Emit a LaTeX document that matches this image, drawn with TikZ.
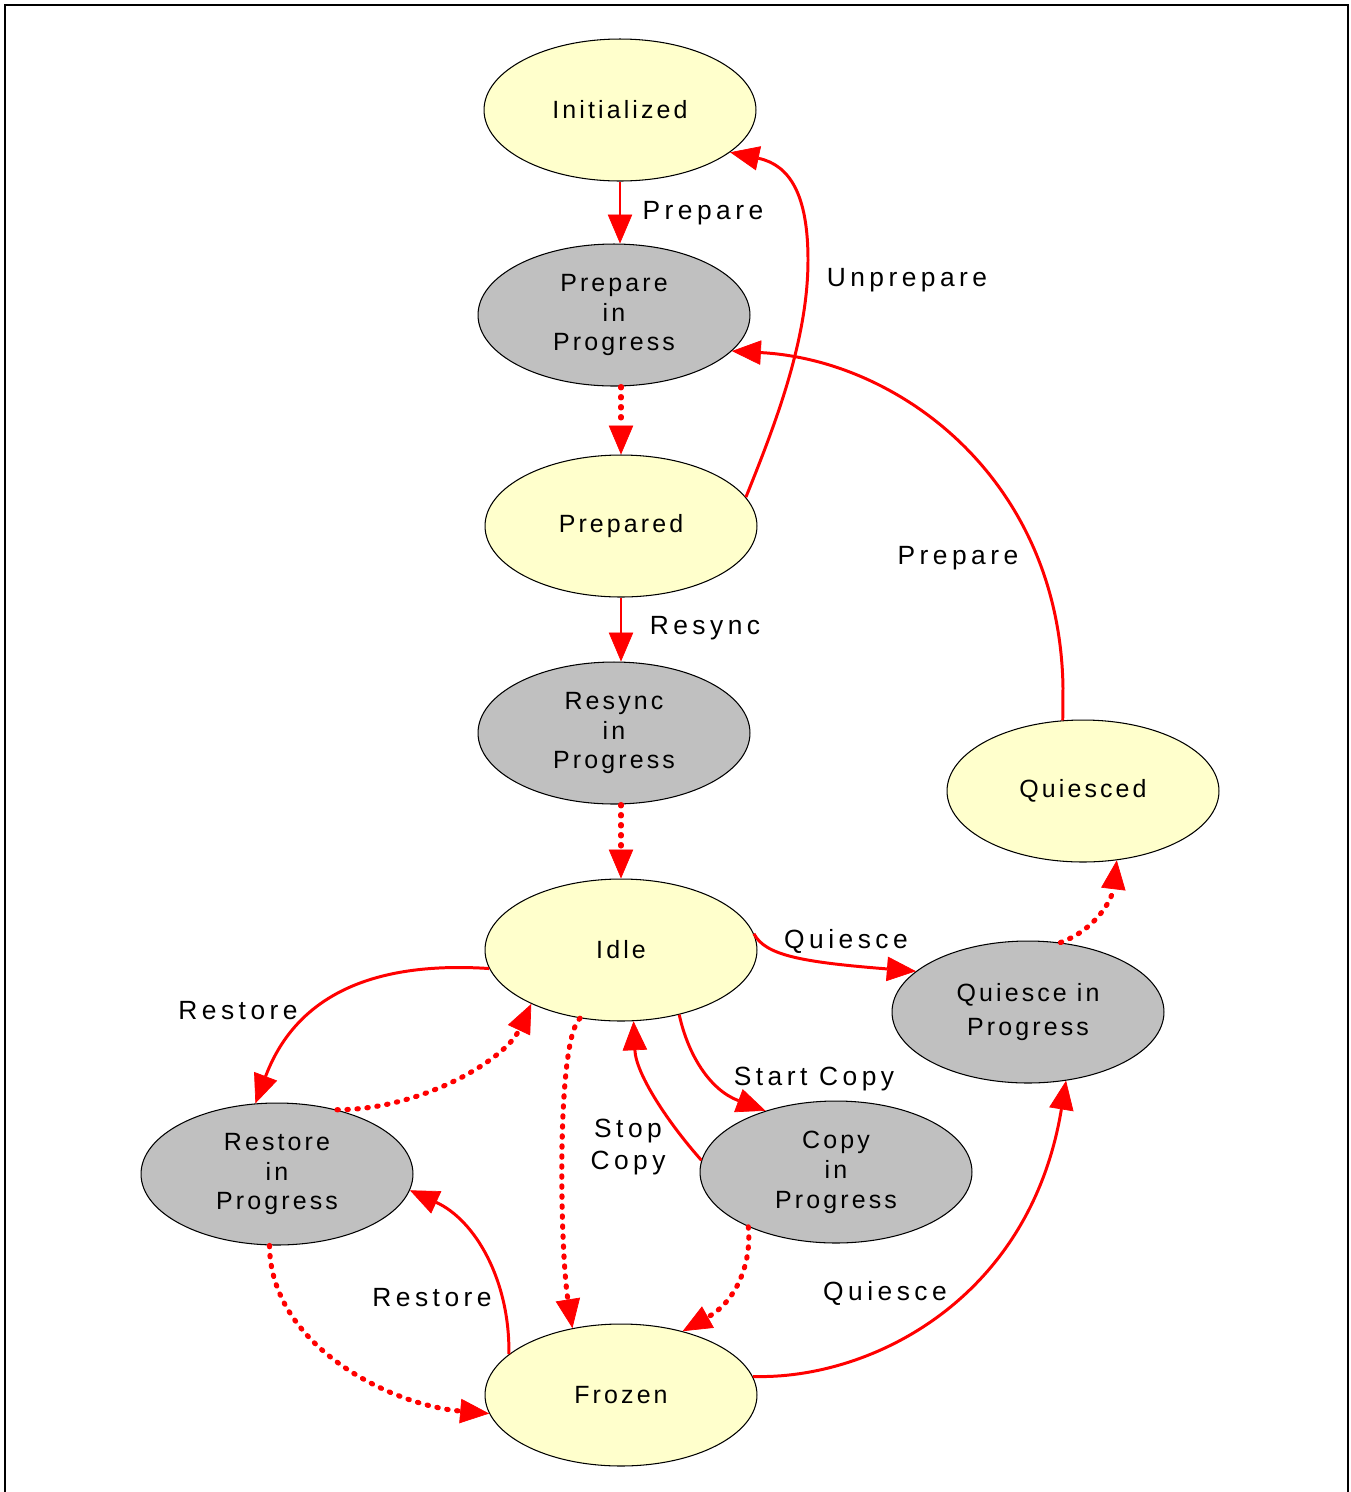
\documentclass[tikz,border=0pt]{standalone}
\usepackage{fontspec}
\setmainfont{Liberation Sans}[LetterSpace=12.5]
\usetikzlibrary{positioning,shapes.geometric,arrows.meta}

\definecolor{stateyellow}{RGB}{255,255,204}
\definecolor{busygray}{RGB}{192,192,192}

\begin{document}
\begin{tikzpicture}[
    x=0.02cm, y=-0.02cm,
    every node/.style={font=\fontsize{14.2}{17}\selectfont},
    state/.style={ellipse, draw, line width=0.6pt, fill=stateyellow,
      minimum width=5.44cm, minimum height=2.84cm, inner sep=0pt, align=center},
    busy/.style={state, fill=busygray},
    lbl/.style={inner sep=0pt, align=center,
      font=\fontsize{15}{18.5}\selectfont\addfontfeatures{LetterSpace=17}},
    arr/.style={draw=red, line width=1.7pt,
      -{Triangle[length=5.8mm, width=4.9mm, line width=0.4pt]}},
    dotarr/.style={arr, line width=2.9pt, line cap=round, dash pattern=on 0.8pt off 4.9pt}
  ]
  \useasboundingbox (0,0) rectangle (1351,1492);
  \draw[line width=1.2pt] (5,1510) -- (5,5) -- (1348,5) -- (1348,1510);

  % states
  \node[state] (init) at (620,110) {Initialized};
  \node[busy] (prepip) at (614,315) {Prepare\\in\\Progress};
  \node[state] (prepd) at (621,526) {Prepared};
  \node[busy] (resip) at (614,733) {Resync\\in\\Progress};
  \node[state] (idle) at (621,950) {Idle};
  \node[state] (quies) at (1083,791) {Quiesced};
  \node[busy] (qip) at (1028,1012) {Quiesce in\\[2pt]Progress};
  \node[busy] (rip) at (277,1174) {Restore\\in\\Progress};
  \node[busy] (cip) at (836,1172) {Copy\\in\\Progress};
  \node[state] (frozen) at (621,1395) {Frozen};

  % transition labels
  \node[lbl] (lprep) at (703,213) {Prepare};
  \node[lbl] (lunprep) at (907,280) {Unprepare};
  \node[lbl] (lresync) at (705,628) {Resync};
  \node[lbl] (lprepq) at (958,558) {Prepare};
  \node[lbl] (lquies) at (846,941) {Quiesce};
  \node[lbl] (lrest) at (238,1011) {Restore};
  \node[lbl] (lstart) at (814,1079) {Start Copy};
  \node[lbl] (lstop) at (628,1147) {Stop\\Copy};
  \node[lbl] (lrestf) at (432,1298) {Restore};
  \node[lbl] (lquiesf) at (885,1293) {Quiesce};

  % straight transitions
  \foreach \a/\b in {init/prepip, prepd/resip}
    \draw[arr] (\a.south) -- (\a.south |- \b.north);
  \foreach \a/\b in {prepip/prepd, resip/idle}
    \draw[dotarr] (\b.north |- \a.south) -- (\b.north);

  % curved transitions
  \draw[arr] (prepd.13) .. controls (775,425) and (808,340) .. (808,260)
    .. controls (808,195) and (790,165) .. (init.339);
  \draw[arr] (quies.106) -- (1063,688) .. controls (1060,480) and (900,360) .. (prepip.343);
  \draw[arr] (idle.7) .. controls (765,955) and (800,962) .. (qip.160);
  \draw[dotarr] (qip.65) .. controls (1095,930) and (1112,900) .. (quies.296);
  \draw[arr] (idle.188) .. controls (390,962) and (300,985) .. (rip.107);
  \draw[dotarr] (rip.47) .. controls (420,1110) and (505,1060) .. (idle.211);
  \draw[dotarr] (idle.239) .. controls (556,1040) and (560,1250) .. (frozen.126);
  \draw[arr] (idle.312) .. controls (688,1055) and (710,1090) .. (cip.139);
  \draw[arr] (cip.175) .. controls (670,1125) and (636,1075) .. (idle.280);
  \draw[dotarr] (cip.212) .. controls (752,1265) and (735,1302) .. (frozen.46);
  \draw[dotarr] (rip.264) .. controls (270,1345) and (390,1405) .. (frozen.188);
  \draw[arr] (frozen.160) .. controls (510,1280) and (475,1220) .. (rip.353);
  \draw[arr] (frozen.8) .. controls (870,1380) and (1030,1300) .. (qip.299);
\end{tikzpicture}
\end{document}
